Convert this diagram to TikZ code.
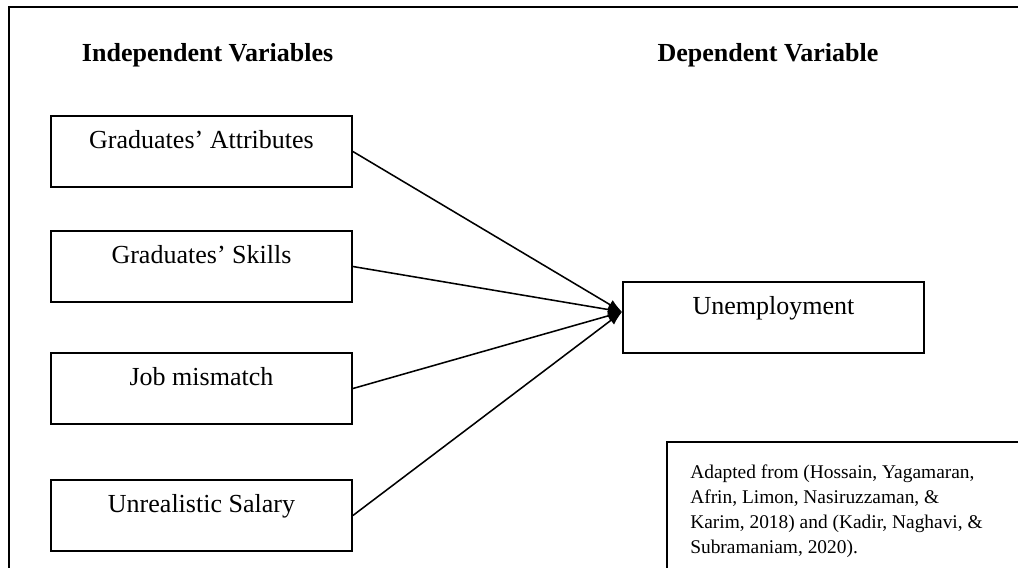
\documentclass[tikz,border=0pt]{standalone}
\usepackage{fontspec}
\setmainfont{Liberation Serif}
\usetikzlibrary{arrows.meta}

\begin{document}
\begin{tikzpicture}[x=0.025cm, y=-0.025cm,
        varbox/.style={draw, line width=1.2pt, inner sep=0pt,
            minimum width=7.525cm, minimum height=1.775cm,
            text height=0.45cm, text depth=0.625cm,
            font=\fontsize{18.5}{22}\selectfont},
        heading/.style={font=\fontsize{18.5}{22}\selectfont\bfseries},
        link/.style={line width=1.1pt, -{Latex[length=10pt,width=7.5pt]}}]
        \useasboundingbox (0,0) rectangle (1018,568);
        % Outer frame
        \draw[line width=1.9pt] (1018,7) -| (9,568);
        % Column headings
        \node[heading, anchor=west] (indep) at (77,55) {Independent Variables};
        \node[heading] (dep) at (768,55) {Dependent Variable};
        % Draw the independent variable boxes
        \foreach \name/\y/\txt in {attr/151.5/Graduates’ Attributes,
                                   skills/266.5/Graduates’ Skills,
                                   mismatch/388.5/Job mismatch,
                                   salary/515.5/Unrealistic Salary} {
            \node[varbox] (\name) at (201.5,\y) {\txt};
        }
        % Dependent variable
        \node[varbox] (unemp) at (773.5,317.5) {Unemployment};
        \coordinate (hub) at ([yshift=4pt]unemp.west);
        % Connect each box to the dependent variable
        \foreach \name in {attr,skills,mismatch,salary} {
            \draw[link] (\name.east) -- (hub);
        }
        % Source note
        \draw[line width=1.4pt] (1018,442) -| (667,568);
        \node[anchor=north west, inner sep=0pt, align=left,
              font=\fontsize{13.8}{17.6}\selectfont] (source) at (690,465)
            {Adapted from (Hossain, Yagamaran,\\
             Afrin, Limon, Nasiruzzaman, \&\\
             Karim, 2018) and (Kadir, Naghavi, \&\\
             Subramaniam, 2020).};
    \end{tikzpicture}
\end{document}
